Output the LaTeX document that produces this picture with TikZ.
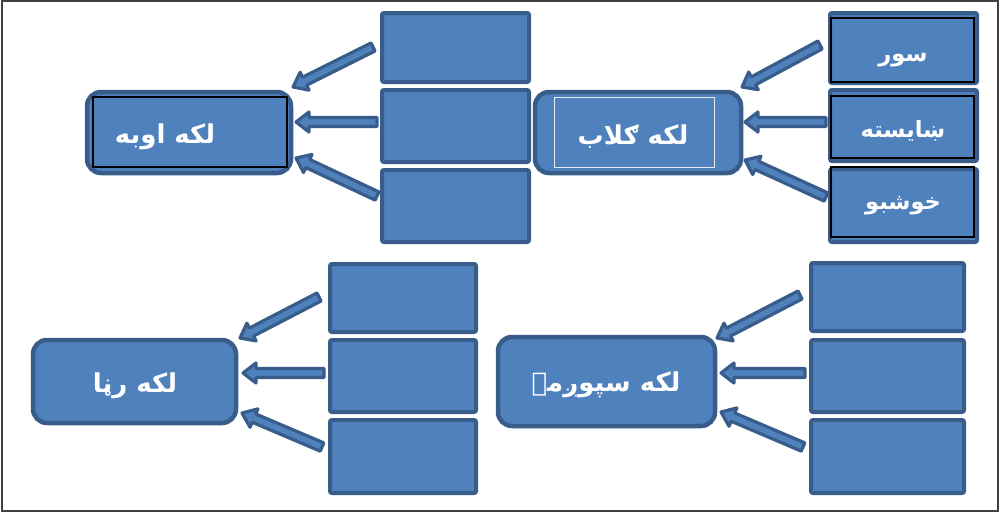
\documentclass[tikz,border=0pt]{standalone}
\usepackage{fontspec}
\usetikzlibrary{calc}
\TeXXeTstate=1
\newfontfamily\arabicfont[Script=Arabic]{DejaVu Sans}
\definecolor{midblue}{HTML}{4F81BD}
\definecolor{dkblue}{HTML}{385D8A}
\definecolor{framegray}{HTML}{404040}
\tikzset{
  bx/.style={draw=dkblue, fill=midblue, line width=4pt, rounded corners=2pt, inner sep=0pt},
  ctr/.style={draw=dkblue, fill=midblue, line width=4.5pt, rounded corners=14pt, inner sep=0pt},
  blackin/.style={draw=black, line width=1.3pt, inner sep=0pt},
  whitein/.style={draw=white!85!midblue, line width=1pt, inner sep=0pt},
  lbl/.style={text=white, font=\arabicfont\bfseries\fontsize{26}{30}\selectfont, inner sep=0pt},
  slbl/.style={text=white, font=\arabicfont\bfseries\fontsize{22.5}{27}\selectfont, inner sep=0pt},
  arrowsty/.style={draw=dkblue, fill=midblue, line width=3.2pt, line join=round},
}
\newcommand\blkarrow[2]{%
  \coordinate (hb) at ($(#2)!13pt!(#1)$);
  \draw[arrowsty] ($(#1)!4.5pt!90:(#2)$) -- ($(hb)!4.5pt!90:(#2)$) -- ($(hb)!10pt!90:(#2)$) -- (#2)
    -- ($(hb)!10pt!-90:(#2)$) -- ($(hb)!4.5pt!-90:(#2)$) -- ($(#1)!4.5pt!-90:(#2)$) -- cycle;
}
\begin{document}
\begin{tikzpicture}[x=1pt,y=-1pt]
\useasboundingbox (0,0) rectangle (1000,512);
\fill[white] (0,0) rectangle (1000,512);
\draw[framegray, line width=1.2pt] (2,1) rectangle (998,511);

% ---------- group 1 (top left) ----------
\node[ctr, minimum width=204pt, minimum height=81pt] (c1) at (189,132.5) {};
\node[blackin, minimum width=194pt, minimum height=70pt] (c1in) at (190,132) {};
\node[lbl] (t1) at (165,137) {\beginR لکه اوبه\endR};
\node[bx, minimum width=147pt, minimum height=69pt] (b11) at (455.5,47.5) {};
\node[bx, minimum width=147pt, minimum height=72pt] (b12) at (455.5,126) {};
\node[bx, minimum width=147pt, minimum height=72pt] (b13) at (455.5,206) {};
\coordinate (a11t) at (373,47);  \coordinate (a11h) at (293,87);
\coordinate (a12t) at (377,122); \coordinate (a12h) at (296,122);
\coordinate (a13t) at (377,196); \coordinate (a13h) at (296,158);
\blkarrow{a11t}{a11h}
\blkarrow{a12t}{a12h}
\blkarrow{a13t}{a13h}

% ---------- group 2 (top right) ----------
\node[ctr, minimum width=206pt, minimum height=81pt] (c2) at (638,132.5) {};
\node[whitein, minimum width=160pt, minimum height=70pt] (c2in) at (634,132) {};
\node[lbl] (t2) at (633,137) {\beginR لکه ګلاب\endR};
\node[bx, minimum width=147pt, minimum height=70pt] (b21) at (903.5,48) {};
\node[bx, minimum width=147pt, minimum height=71pt] (b22) at (903.5,125.5) {};
\node[bx, minimum width=147pt, minimum height=73pt] (b23) at (903.5,205.5) {};
\node[blackin, minimum width=143pt, minimum height=64pt] (b21in) at (902.5,50) {};
\node[blackin, minimum width=143pt, minimum height=62pt] (b22in) at (902.5,127) {};
\node[blackin, minimum width=143pt, minimum height=70pt] (b23in) at (902.5,202) {};
\node[slbl] (t21) at (903,60) {\beginR سور\endR};
\node[slbl] (t22) at (903,131) {\beginR ښایسته\endR};
\node[slbl] (t23) at (903,206) {\beginR خوشبو\endR};
\coordinate (a21t) at (820,45);  \coordinate (a21h) at (742,87);
\coordinate (a22t) at (826,122); \coordinate (a22h) at (745,122);
\coordinate (a23t) at (826,197); \coordinate (a23h) at (745,160);
\blkarrow{a21t}{a21h}
\blkarrow{a22t}{a22h}
\blkarrow{a23t}{a23h}

% ---------- group 3 (bottom left) ----------
\node[ctr, minimum width=203pt, minimum height=83pt] (c3) at (134.5,381.5) {};
\node[lbl] (t3) at (135,386) {\beginR لکه رڼا\endR};
\node[bx, minimum width=146pt, minimum height=68pt] (b31) at (403,298) {};
\node[bx, minimum width=146pt, minimum height=72pt] (b32) at (403,376) {};
\node[bx, minimum width=146pt, minimum height=73pt] (b33) at (403,456.5) {};
\coordinate (a31t) at (319,297); \coordinate (a31h) at (240,338);
\coordinate (a32t) at (324,373); \coordinate (a32h) at (243,373);
\coordinate (a33t) at (322,447); \coordinate (a33h) at (242,413);
\blkarrow{a31t}{a31h}
\blkarrow{a32t}{a32h}
\blkarrow{a33t}{a33h}

% ---------- group 4 (bottom right) ----------
\node[ctr, minimum width=217pt, minimum height=89pt] (c4) at (606.5,381.5) {};
\node[lbl] (t4) at (606,385) {\beginR لکه سپوږمۍ\endR};
\node[bx, minimum width=153pt, minimum height=68pt] (b41) at (887.5,297) {};
\node[bx, minimum width=153pt, minimum height=72pt] (b42) at (887.5,376) {};
\node[bx, minimum width=153pt, minimum height=73pt] (b43) at (887.5,456.5) {};
\coordinate (a41t) at (800,295); \coordinate (a41h) at (717,338);
\coordinate (a42t) at (805,373); \coordinate (a42h) at (721,373);
\coordinate (a43t) at (803,447); \coordinate (a43h) at (721,412);
\blkarrow{a41t}{a41h}
\blkarrow{a42t}{a42h}
\blkarrow{a43t}{a43h}
\end{tikzpicture}
\end{document}
